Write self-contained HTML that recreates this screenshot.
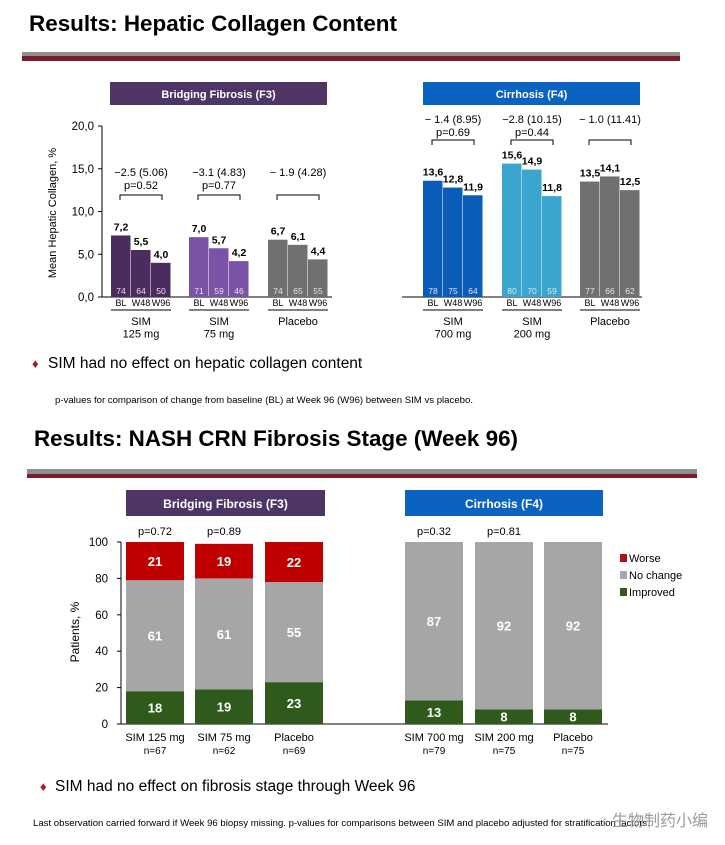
<!DOCTYPE html>
<html><head><meta charset="utf-8"><style>
body{margin:0;background:#fff;}
svg{display:block;font-family:"Liberation Sans",Arial,sans-serif;}
</style></head><body>
<svg id="s" width="725" height="845" viewBox="0 0 725 845" xmlns="http://www.w3.org/2000/svg">
<text x="29" y="31" font-size="22" font-weight="bold" textLength="368" lengthAdjust="spacingAndGlyphs">Results: Hepatic Collagen Content</text>
<rect x="22" y="52" width="658" height="4" fill="#8f8f8f"/>
<rect x="22" y="56" width="658" height="5" fill="#7a1c2b"/>
<rect x="110" y="82" width="217" height="23" fill="#4e3565"/>
<text x="218.5" y="98" font-size="11" font-weight="bold" fill="#fff" text-anchor="middle">Bridging Fibrosis (F3)</text>
<rect x="423" y="82" width="217" height="23" fill="#0a63c0"/>
<text x="531.5" y="98" font-size="11" font-weight="bold" fill="#fff" text-anchor="middle">Cirrhosis (F4)</text>
<g id="top"></g>
<text x="56" y="213" font-size="11" text-anchor="middle" transform="rotate(-90 56 213)">Mean Hepatic Collagen, %</text>
<text x="32" y="368" font-size="13" fill="#a01c2c">♦</text>
<text x="48" y="368" font-size="15.5">SIM had no effect on hepatic collagen content</text>
<text x="55" y="403" font-size="9" textLength="418" lengthAdjust="spacingAndGlyphs">p-values for comparison of change from baseline (BL) at Week 96 (W96) between SIM vs placebo.</text>
<text x="34" y="446" font-size="22" font-weight="bold" textLength="484" lengthAdjust="spacingAndGlyphs">Results: NASH CRN Fibrosis Stage (Week 96)</text>
<rect x="27" y="469" width="670" height="5" fill="#8f8f8f"/>
<rect x="27" y="474" width="670" height="4" fill="#7a1c2b"/>
<rect x="126" y="490" width="199" height="26" fill="#4e3565"/>
<text x="225.5" y="508" font-size="12" font-weight="bold" fill="#fff" text-anchor="middle">Bridging Fibrosis (F3)</text>
<rect x="405" y="490" width="198" height="26" fill="#0a63c0"/>
<text x="504" y="508" font-size="12" font-weight="bold" fill="#fff" text-anchor="middle">Cirrhosis (F4)</text>
<g id="bot"></g>
<text x="79" y="632" font-size="12" text-anchor="middle" transform="rotate(-90 79 632)">Patients, %</text>
<rect x="620" y="554" width="7" height="8" fill="#b01010"/>
<text x="629" y="562" font-size="11">Worse</text>
<rect x="620" y="571" width="7" height="8" fill="#a6a6a6"/>
<text x="629" y="579" font-size="11">No change</text>
<rect x="620" y="588" width="7" height="8" fill="#2f5a1c"/>
<text x="629" y="596" font-size="11">Improved</text>
<text x="40" y="791" font-size="13" fill="#a01c2c">♦</text>
<text x="55" y="791" font-size="15.5">SIM had no effect on fibrosis stage through Week 96</text>
<text x="33" y="826" font-size="9" textLength="617" lengthAdjust="spacingAndGlyphs">Last observation carried forward if Week 96 biopsy missing. p-values for comparisons between SIM and placebo adjusted for stratification factors.</text>
<text x="598" y="826" font-size="16" fill="#9a9a9a">◌ 生物制药小编</text>
</svg>
<script>
// ---- top chart data ----
const topGroups = ["SIM|125 mg","SIM|75 mg","Placebo","SIM|700 mg","SIM|200 mg","Placebo"];
const topTimepoints = ["BL","W48","W96"];
const topMeans = [[7.2,5.5,4.0],[7.0,5.7,4.2],[6.7,6.1,4.4],[13.6,12.8,11.9],[15.6,14.9,11.8],[13.5,14.1,12.5]];
const topN = [[74,64,50],[71,59,46],[74,65,55],[78,75,64],[80,70,59],[77,66,62]];
const topChange = ["\u22122.5 (5.06)","\u22123.1 (4.83)","\u2212 1.9 (4.28)","\u2212 1.4 (8.95)","\u22122.8 (10.15)","\u2212 1.0 (11.41)"];
const topP = ["p=0.52","p=0.77","","p=0.69","p=0.44",""];
const topTicks = [0,5,10,15,20];
const topTickLabels = ["0,0","5,0","10,0","15,0","20,0"];
// ---- bottom chart data ----
const botCats = ["SIM 125 mg","SIM 75 mg","Placebo","SIM 700 mg","SIM 200 mg","Placebo"];
const botN = ["n=67","n=62","n=69","n=79","n=75","n=75"];
const improved = [18,19,23,13,8,8];
const noChange = [61,61,55,87,92,92];
const worse = [21,19,22,0,0,0];
const botP = ["p=0.72","p=0.89","","p=0.32","p=0.81",""];
const botTicks = [0,20,40,60,80,100];

const NS="http://www.w3.org/2000/svg";
function mk(parent,tag,attrs,text){const e=document.createElementNS(NS,tag);for(const k in attrs)e.setAttribute(k,attrs[k]);if(text!==undefined)e.textContent=text;parent.appendChild(e);return e;}

const yTop = v => 297 - v*8.55;
const topGroupX = [111,189,268,423,502,580];
const topColors = ["#4a2c5e","#7a52a6","#707070","#0a5cb8","#3aa6cf","#707070"];
const tg=document.getElementById('top');
let ax=mk(tg,'line',{x1:102,y1:yTop(20),x2:102,y2:297,stroke:'#000','stroke-width':1});


let bl=mk(tg,'line',{x1:102,y1:297,x2:332,y2:297,stroke:'#000','stroke-width':1});


let bl2=mk(tg,'line',{x1:402,y1:297,x2:642,y2:297,stroke:'#000','stroke-width':1});


topTicks.forEach((t,i)=>{
  const tk=mk(tg,'line',{x1:98,y1:yTop(t),x2:102,y2:yTop(t),stroke:'#000'});
  
  
  const tl=mk(tg,'text',{x:94,y:yTop(t)+4,'font-size':11.5,'text-anchor':'end'},topTickLabels[i]);
  
  
});
topGroups.forEach((g,gi)=>{
  const x0=topGroupX[gi];
  topMeans[gi].forEach((v,j)=>{
    const x=x0+j*20;
    const r=mk(tg,'rect',{x:x,y:yTop(v),width:19.5,height:297-yTop(v),fill:topColors[gi]});
    
    
    const vl=mk(tg,'text',{x:x+10,y:yTop(v)-5,'font-size':10.5,'font-weight':'bold','text-anchor':'middle'},v.toFixed(1).replace('.',','));
    
    
    const nl=mk(tg,'text',{x:x+10,y:294,'font-size':8.5,fill:'#e6e0f0','text-anchor':'middle'},topN[gi][j]);
    
    
    const cl=mk(tg,'text',{x:x+10,y:306,'font-size':9,'text-anchor':'middle'},topTimepoints[j]);
    
    
  });
  const ul=mk(tg,'line',{x1:x0,y1:310,x2:x0+60,y2:310,stroke:'#000'});
  
  
  const parts=g.split('|');
  parts.forEach((p,k)=>{
    const gl=mk(tg,'text',{x:x0+30,y:325+k*12.5,'font-size':11,'text-anchor':'middle'},p);
    
    
  });
  const right=gi>=3;
  const cy= right?123:176;
  const ch=mk(tg,'text',{x:x0+30,y:cy,'font-size':11,'text-anchor':'middle'},topChange[gi]);
  
  
  if(topP[gi]){
    const pl=mk(tg,'text',{x:x0+30,y:cy+13,'font-size':11,'text-anchor':'middle'},topP[gi]);
    
    
  }
  const by= right?140:195;
  const br=mk(tg,'path',{d:`M${x0+9},${by+5}V${by}H${x0+51}V${by+5}`,fill:'none',stroke:'#000','stroke-width':1});
  
  
});

const yBot = v => 724 - v*1.82;
const botX = [126,195,265,405,475,544];
const bg=document.getElementById('bot');
let bax=mk(bg,'line',{x1:121,y1:yBot(100),x2:121,y2:724,stroke:'#000'});


let bbl=mk(bg,'line',{x1:121,y1:724,x2:608,y2:724,stroke:'#000'});


botTicks.forEach(t=>{
  const tk=mk(bg,'line',{x1:117,y1:yBot(t),x2:121,y2:yBot(t),stroke:'#000'});
  
  
  const tl=mk(bg,'text',{x:108,y:yBot(t)+4,'font-size':11.5,'text-anchor':'end'},t);
  
  
});
botCats.forEach((c,i)=>{
  const x=botX[i],w=58,cx=x+29;
  const segs=[[improved[i],'#2f5a1c','improved'],[noChange[i],'#a6a6a6','no-change'],[worse[i],'#c00000','worse']];
  let base=0;
  segs.forEach(([v,col,nm])=>{
    if(v<=0)return;
    const top=Math.min(base+v,100);
    const r=mk(bg,'rect',{x:x,y:yBot(top),width:w,height:yBot(base)-yBot(top),fill:col});
    
    
    const t=mk(bg,'text',{x:cx,y:(yBot(base)+yBot(top))/2+5,'font-size':13,'font-weight':'bold',fill:'#fff','text-anchor':'middle'},v);
    
    
    base=top;
  });
  const cl=mk(bg,'text',{x:cx,y:741,'font-size':11,'text-anchor':'middle'},c);
  
  
  const nl=mk(bg,'text',{x:cx,y:754,'font-size':10,'text-anchor':'middle'},botN[i]);
  
  
  if(botP[i]){
    const pl=mk(bg,'text',{x:cx,y:535,'font-size':11,'text-anchor':'middle'},botP[i]);
    
    
  }
});
</script>
</body></html>
